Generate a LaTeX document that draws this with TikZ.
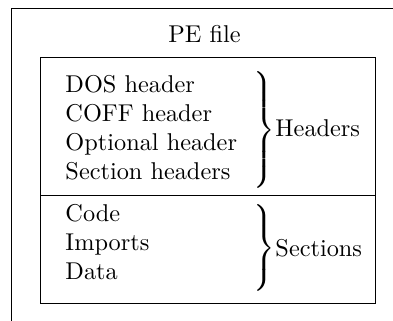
\documentclass[tikz,border=0pt]{standalone}
\begin{document}
\begin{tikzpicture}[x=0.4115pt,y=-0.4115pt,
  txt/.style={inner sep=0pt,anchor=base west},
  frame/.style={draw=black,line width=0.4pt},
  bracenode/.style={inner sep=0pt,anchor=west}]
\useasboundingbox (0,0) rectangle (393,320);
\clip (0,0) rectangle (393,320);
% outer frame of the file (continues past the visible area)
\draw[frame] (11,8) rectangle (440,360);
\node[inner sep=0pt,anchor=base] (pe) at (204.5,42) {PE file};
% inner box split into headers and sections
\draw[frame] (40,57) rectangle (375,303);
\coordinate (divl) at (40,195);
\coordinate (divr) at (375,195);
\draw[frame] (divl) -- (divr);
% header entries
\node[txt] (dos) at (65,92) {DOS header};
\node[txt] (coff) at (65,121.2) {COFF header};
\node[txt] (opt) at (65,150.3) {Optional header};
\node[txt] (sech) at (65,179.5) {Section headers};
% section entries
\node[txt] (code) at (65,221.5) {Code};
\node[txt] (imp) at (65,250.7) {Imports};
\node[txt] (data) at (65,279.8) {Data};
% braces and group labels
\node[bracenode] (hbrace) at (250,130) {$\left.\vcenter{\hbox{\rule{0pt}{48pt}}}\right\}$};
\node[txt] (hlbl) at (275,136.7) {Headers};
\node[bracenode] (sbrace) at (250,248) {$\left.\vcenter{\hbox{\rule{0pt}{36pt}}}\right\}$};
\node[txt] (slbl) at (275,256.6) {Sections};
\end{tikzpicture}
\end{document}
